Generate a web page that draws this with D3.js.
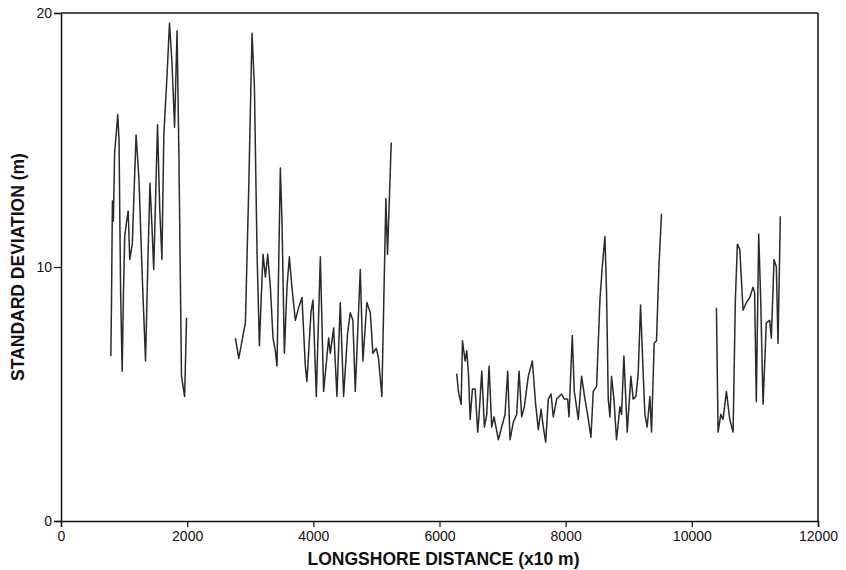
<!DOCTYPE html>
<html>
<head>
<meta charset="utf-8">
<script src="https://cdn.jsdelivr.net/npm/d3@7"></script>
<style>
    body { margin: 0; background: #fff; }
    #chart-area { width: 846px; height: 570px; }
    .tick text { font-family: "Liberation Sans", Arial, sans-serif; font-size: 14px; fill: #111; }
    .axis-label { font-family: "Liberation Sans", Arial, sans-serif; font-size: 17.5px; font-weight: bold; fill: #111; }
</style>
</head>
<body>
<div id="chart-area"></div>
<script>

let stretchA = [
    [790, 6.5], [800, 8.5], [815, 12.6], [830, 11.8], [850, 14.5], [900, 16.0], [920, 15.0], [945, 9.0],
    [970, 5.9], [990, 9.0], [1010, 11.2], [1040, 11.8], [1065, 12.2], [1090, 10.3], [1130, 10.9],
    [1190, 15.2], [1235, 13.5], [1290, 9.5], [1340, 6.3], [1380, 10.5], [1410, 13.3], [1440, 11.7],
    [1470, 9.9], [1530, 15.6], [1565, 12.3], [1600, 10.3], [1630, 15.2], [1680, 17.5], [1720, 19.6],
    [1760, 18.0], [1800, 15.5], [1840, 19.3], [1870, 14.2], [1910, 5.7], [1960, 4.9], [1990, 8.0]
];

let stretchB = [
    [2765, 7.2], [2818, 6.4], [2870, 7.1], [2923, 7.8], [2976, 13.1], [3028, 19.2], [3066, 17.1],
    [3108, 10.5], [3145, 6.9], [3171, 8.6], [3203, 10.5], [3240, 9.6], [3277, 10.5], [3319, 9.2],
    [3361, 7.2], [3398, 6.7], [3424, 6.1], [3477, 13.9], [3503, 11.8], [3541, 6.6], [3582, 9.2],
    [3620, 10.4], [3661, 9.2], [3715, 7.9], [3767, 8.4], [3820, 8.8], [3873, 6.1], [3899, 5.5],
    [3962, 8.2], [3994, 8.7], [4047, 4.9], [4111, 10.4], [4163, 5.1], [4243, 7.2], [4269, 6.6],
    [4322, 7.6], [4374, 4.9], [4427, 8.6], [4480, 4.9], [4543, 7.4], [4586, 8.2], [4627, 7.9],
    [4665, 5.1], [4744, 9.9], [4786, 6.3], [4849, 8.6], [4903, 8.2], [4944, 6.6], [4998, 6.8],
    [5034, 6.4], [5086, 4.9], [5150, 12.7], [5176, 10.5], [5235, 14.9]
];

let stretchC = [
    [6273, 5.8], [6300, 5.1], [6343, 4.6], [6364, 7.1], [6406, 6.3], [6432, 6.7], [6459, 5.8],
    [6486, 4.0], [6522, 5.2], [6565, 5.2], [6606, 3.5], [6628, 4.2], [6670, 5.9], [6712, 3.7],
    [6749, 4.2], [6786, 6.1], [6828, 3.7], [6865, 4.1], [6933, 3.2], [6986, 3.7], [7039, 4.2],
    [7081, 5.9], [7118, 3.2], [7171, 3.9], [7224, 4.2], [7261, 5.9], [7303, 4.1], [7345, 4.5],
    [7408, 5.7], [7472, 6.3], [7524, 4.6], [7567, 3.6], [7610, 4.4], [7646, 3.7], [7683, 3.1],
    [7725, 4.8], [7768, 5.0], [7804, 4.1], [7857, 4.8], [7936, 5.0], [7978, 4.8], [8031, 4.8],
    [8053, 4.1], [8105, 7.3], [8137, 5.1], [8200, 4.0], [8252, 5.7], [8306, 4.8], [8347, 4.2],
    [8401, 3.3], [8437, 5.1], [8490, 5.3], [8543, 8.7], [8580, 10.0], [8622, 11.2], [8648, 9.0],
    [8675, 4.8], [8702, 4.1], [8727, 5.7], [8765, 4.8], [8806, 3.2], [8860, 4.5], [8886, 4.2],
    [8923, 6.5], [8976, 3.5], [9034, 5.7], [9070, 4.8], [9113, 4.9], [9150, 5.8], [9187, 8.5],
    [9229, 5.8], [9256, 4.2], [9292, 3.7], [9335, 4.9], [9361, 3.5], [9403, 7.0], [9440, 7.1],
    [9478, 10.0], [9519, 12.1]
];

let stretchD = [
    [10390, 8.4], [10416, 3.5], [10459, 4.2], [10495, 4.0], [10548, 5.1], [10601, 4.0], [10654, 3.5],
    [10690, 8.7], [10722, 10.9], [10760, 10.7], [10812, 8.3], [10864, 8.6], [10918, 8.8], [10970, 9.2],
    [10995, 9.0], [11022, 4.7], [11060, 11.3], [11092, 8.7], [11129, 4.6], [11181, 7.8], [11234, 7.9],
    [11260, 7.2], [11303, 10.3], [11340, 10.0], [11366, 7.0], [11403, 12.0]
];

let xTicks = [0, 2000, 4000, 6000, 8000, 10000, 12000];
let yTicks = [0, 10, 20];

class ProfileVis {

    constructor(parentElement, stretches) {
        this.parentElement = parentElement;
        this.stretches = stretches;
        this.initVis();
    }

    initVis() {
        let vis = this;

        vis.margin = {top: 13, right: 28, bottom: 49, left: 61};
        vis.width = 846 - vis.margin.left - vis.margin.right;
        vis.height = 570 - vis.margin.top - vis.margin.bottom;

        vis.svg = d3.select("#" + vis.parentElement).append("svg")
            .attr("width", 846)
            .attr("height", 570)
            .append("g")
            .attr("transform", `translate(${vis.margin.left}, ${vis.margin.top})`);

        vis.x = d3.scaleLinear().domain([0, 12000]).range([0, vis.width]);
        vis.y = d3.scaleLinear().domain([0, 20]).range([vis.height, 0]);

        // frame: top and right edges
        vis.svg.append("line")
            .attr("x1", 0).attr("x2", vis.width)
            .attr("y1", 0).attr("y2", 0)
            .attr("stroke", "#111").attr("stroke-width", 1.5);
        vis.svg.append("line")
            .attr("x1", vis.width).attr("x2", vis.width)
            .attr("y1", 0).attr("y2", vis.height)
            .attr("stroke", "#111").attr("stroke-width", 1.5);

        vis.xAxis = d3.axisBottom(vis.x).tickValues(xTicks).tickFormat(d3.format("d")).tickSize(6).tickPadding(4);
        vis.yAxis = d3.axisLeft(vis.y).tickValues(yTicks).tickSize(7).tickPadding(2);

        vis.svg.append("g")
            .attr("class", "x-axis")
            .attr("transform", `translate(0, ${vis.height})`)
            .call(vis.xAxis);
        vis.svg.append("g")
            .attr("class", "y-axis")
            .call(vis.yAxis);

        vis.svg.selectAll(".domain").attr("stroke", "#111").attr("stroke-width", 1.5);
        vis.svg.selectAll(".tick line").attr("stroke", "#111").attr("stroke-width", 1.2);

        vis.svg.append("text")
            .attr("class", "axis-label")
            .attr("x", vis.width / 2 + 4)
            .attr("y", vis.height + 44)
            .attr("text-anchor", "middle")
            .text("LONGSHORE DISTANCE (x10 m)");

        vis.svg.append("text")
            .attr("class", "axis-label")
            .attr("transform", `translate(${-37}, ${vis.height / 2}) rotate(-90)`)
            .attr("text-anchor", "middle")
            .text("STANDARD DEVIATION (m)");

        vis.lineGroup = vis.svg.append("g");

        vis.updateVis();
    }

    updateVis() {
        let vis = this;

        let line = d3.line()
            .x(d => vis.x(d[0]))
            .y(d => vis.y(d[1]));

        vis.lineGroup.selectAll("path")
            .data(vis.stretches)
            .enter()
            .append("path")
            .attr("d", line)
            .attr("fill", "none")
            .attr("stroke", "#2a2a2a")
            .attr("stroke-width", 1.5)
            .attr("stroke-linejoin", "round");
    }
}

new ProfileVis("chart-area", [stretchA, stretchB, stretchC, stretchD]);

</script>
</body>
</html>
